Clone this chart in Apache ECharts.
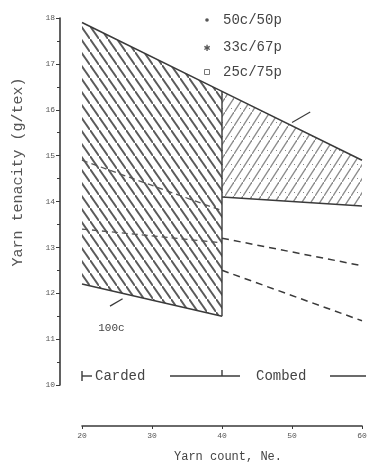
<!DOCTYPE html>
<html>
<head>
<meta charset="utf-8">
<script src="https://cdn.jsdelivr.net/npm/echarts@6/dist/echarts.min.js"></script>
<style>
  html, body { margin: 0; padding: 0; background: #fff; }
  #chart { width: 371px; height: 471px; }
</style>
</head>
<body>
<div id="chart"></div>
<script>
// Yarn count (Ne) break points: carded spans 20-40, combed spans 40-60
const cardedCounts = [20, 40];
const combedCounts = [40, 60];
const envelopeCounts = [20, 40, 60];

// Tenacity, g/tex
const envelopeTop = [17.9, 16.4, 14.9];
const cardedUpper = [14.9, 13.8];
const cardedMiddle = [13.4, 13.1];
const cardedLower = [12.2, 11.5];
const combedUpper = [14.1, 13.9];
const combedMiddle = [13.2, 12.6];
const combedLower = [12.5, 11.4];

const xTickValues = [20, 30, 40, 50, 60];
const yTickValues = [10, 11, 12, 13, 14, 15, 16, 17, 18];
const blendLabels = ['50c/50p', '33c/67p', '25c/75p'];

const INK = '#3a3a3a';
const MONO = '"Liberation Mono", "DejaVu Sans Mono", monospace';

function pairs(xs, ys) { return xs.map((x, i) => [x, ys[i]]); }

// Diagonal hatch tile; 'back' = top-left to bottom-right strokes
function hatch(dir, w, h, color, width, dotted) {
  const c = document.createElement('canvas');
  c.width = w; c.height = h;
  const g = c.getContext('2d');
  g.strokeStyle = color;
  g.lineWidth = width;
  const k = h / w;
  g.beginPath();
  if (dir === 'back') { g.moveTo(-2, -2 * k); g.lineTo(w + 2, h + 2 * k); }
  else { g.moveTo(-2, h + 2 * k); g.lineTo(w + 2, -2 * k); }
  g.stroke();
  if (dotted) {
    g.fillStyle = color;
    g.fillRect(Math.round(w * 0.7), Math.round(h * 0.7), 1, 1);
  }
  return { image: c, repeat: 'repeat' };
}

// Hatched regions: upper and lower boundary per processing route
const bands = [
  { xs: cardedCounts, upper: envelopeTop.slice(0, 2), lower: cardedLower, fill: hatch('back', 9, 13, '#5a5a5a', 1.9, false) },
  { xs: combedCounts, upper: envelopeTop.slice(1, 3), lower: combedUpper, fill: hatch('fwd', 9, 14, '#8a8a8a', 1.3, true) }
];

const chart = echarts.init(document.getElementById('chart'), null, { renderer: 'canvas' });

const lineBase = { type: 'line', symbol: 'none', silent: true, z: 5 };

chart.setOption({
  animation: false,
  backgroundColor: '#fff',
  grid: { left: 82, right: 9, top: 18, bottom: 86, containLabel: false },
  xAxis: {
    type: 'value', min: 20, max: 60, interval: 10,
    offset: 41,
    axisLine: { lineStyle: { color: INK, width: 1.6 } },
    axisTick: { show: true, length: 3, lineStyle: { color: INK } },
    axisLabel: { fontSize: 8, color: '#555', margin: 6, fontFamily: MONO },
    splitLine: { show: false },
    name: 'Yarn count, Ne.',
    nameLocation: 'middle',
    nameGap: 25,
    nameTextStyle: { fontSize: 12, color: '#444', fontFamily: MONO, padding: [0, 0, 0, 12] }
  },
  yAxis: {
    type: 'value', min: 10, max: 18, interval: 1,
    offset: 22,
    axisLine: { show: true, lineStyle: { color: INK, width: 1.6 } },
    axisTick: { show: true, length: 4, lineStyle: { color: INK } },
    minorTick: { show: true, splitNumber: 2, length: 3, lineStyle: { color: INK } },
    axisLabel: {
      fontSize: 8, color: '#555', margin: 5, fontFamily: MONO,
      formatter: v => yTickValues.includes(v) ? String(v) : ''
    },
    splitLine: { show: false }
  },
  series: [
    {
      type: 'custom', name: 'hatched bands', silent: true, z: 2,
      data: bands.map((b, i) => [i]),
      renderItem: (params, api) => {
        const b = bands[params.dataIndex];
        const top = b.xs.map((x, i) => api.coord([x, b.upper[i]]));
        const bottom = b.xs.map((x, i) => api.coord([x, b.lower[i]])).reverse();
        return { type: 'polygon', shape: { points: top.concat(bottom) }, style: { fill: b.fill } };
      }
    },
    Object.assign({}, lineBase, {
      name: 'envelope', data: pairs(envelopeCounts, envelopeTop),
      lineStyle: { color: INK, width: 1.6 }
    }),
    Object.assign({}, lineBase, {
      name: 'carded lower', data: pairs(cardedCounts, cardedLower),
      lineStyle: { color: INK, width: 1.5 }
    }),
    Object.assign({}, lineBase, {
      name: 'combed upper', data: pairs(combedCounts, combedUpper),
      lineStyle: { color: INK, width: 1.5 }
    }),
    Object.assign({}, lineBase, {
      name: 'carded upper', data: pairs(cardedCounts, cardedUpper),
      lineStyle: { color: '#555', width: 1.3, type: [6, 4] }
    }),
    Object.assign({}, lineBase, {
      name: 'carded middle', data: pairs(cardedCounts, cardedMiddle),
      lineStyle: { color: '#555', width: 1.3, type: [6, 4] }
    }),
    Object.assign({}, lineBase, {
      name: 'combed middle', data: pairs(combedCounts, combedMiddle),
      lineStyle: { color: INK, width: 1.5, type: [7, 5] }
    }),
    Object.assign({}, lineBase, {
      name: 'combed lower', data: pairs(combedCounts, combedLower),
      lineStyle: { color: INK, width: 1.5, type: [7, 5] }
    }),
    // divider between carded and combed at 40 Ne
    Object.assign({}, lineBase, {
      name: 'divider', data: [[40, cardedLower[1]], [40, envelopeTop[1]]],
      lineStyle: { color: INK, width: 1.4 }
    })
  ]
});

// Annotations placed from data coordinates
const px = (x, y) => chart.convertToPixel({ gridIndex: 0 }, [x, y]);
const x20 = px(20, 10)[0], x40 = px(40, 10)[0], x60 = px(60, 10)[0];
const rowY = 376;
const lineStyle = { stroke: INK, lineWidth: 1.4 };
const seg = (x1, y1, x2, y2, w) => ({
  type: 'line', shape: { x1, y1, x2, y2 },
  style: Object.assign({}, lineStyle, w ? { lineWidth: w } : {}), silent: true
});
const txt = (x, y, text, size, align, extra, rotation) => ({
  type: 'text', x, y, silent: true, rotation: rotation || 0,
  style: Object.assign({
    text, fill: '#444', font: size + 'px ' + MONO,
    textAlign: align || 'left', textVerticalAlign: 'middle'
  }, extra || {})
});

const leaderA = px(50, 15.72), leaderB = px(52.6, 15.95);
const arrowA = px(24.0, 11.72), arrowB = px(25.8, 11.88);
const labelPos = px(24.2, 11.25);

const legendX = 207, legendTextX = 223;
const legendYs = [20, 47, 72];

chart.setOption({
  graphic: [
    // vertical axis title
    txt(18, 172, 'Yarn tenacity (g/tex)', 15, 'center', { fill: '#555' }, Math.PI / 2),
    // carded / combed ruler
    seg(x20, rowY - 5, x20, rowY + 5),
    seg(x20, rowY, x20 + 10, rowY),
    txt(x20 + 13, rowY, 'Carded', 14, 'left'),
    seg(x20 + 88, rowY, x40 + 18, rowY),
    seg(x40, rowY, x40, rowY - 6),
    txt(x40 + 34, rowY, 'Combed', 14, 'left'),
    seg(x40 + 108, rowY, x60 + 4, rowY),
    // leader to the envelope line and the 100c pointer
    seg(leaderA[0], leaderA[1], leaderB[0], leaderB[1], 1.1),
    seg(arrowA[0], arrowA[1], arrowB[0], arrowB[1], 1.3),
    txt(labelPos[0], labelPos[1], '100c', 11, 'center'),
    // blend key
    { type: 'circle', shape: { cx: legendX, cy: legendYs[0], r: 1.8 }, style: { fill: '#555' }, silent: true },
    txt(legendX, legendYs[1] + 1, '✱', 11, 'center', { fill: '#555' }),
    { type: 'rect', shape: { x: legendX - 2.5, y: legendYs[2] - 2.5, width: 5, height: 5 }, style: { fill: '#fff', stroke: '#777', lineWidth: 1 }, silent: true },
    txt(legendTextX, legendYs[0], blendLabels[0], 14, 'left'),
    txt(legendTextX, legendYs[1], blendLabels[1], 14, 'left'),
    txt(legendTextX, legendYs[2], blendLabels[2], 14, 'left')
  ]
});
</script>
</body>
</html>
